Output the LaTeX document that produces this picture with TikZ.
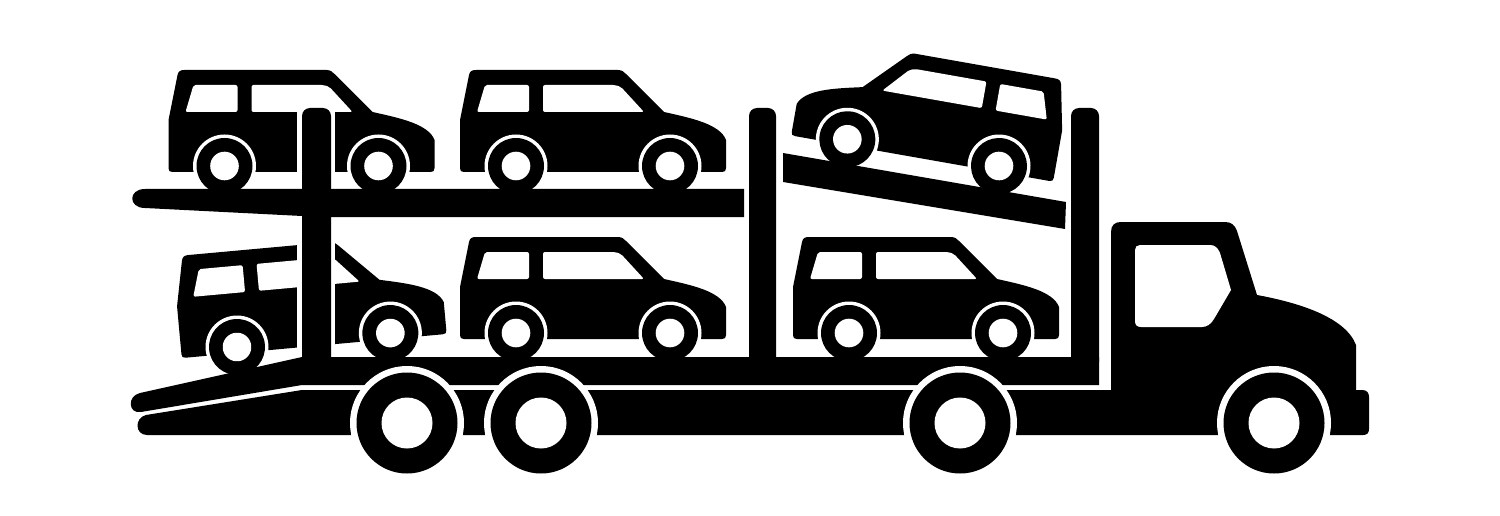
\documentclass[tikz,border=0pt]{standalone}
\tikzset{
  ink/.style={fill=black,draw=none},
  paper/.style={fill=white,draw=none},
  pics/autocar/.style={code={
    \path[ink] (-52,6) .. controls (-55,6) and (-56,5) .. (-56,2) -- (-56,-46) -- (-47,-91)
      .. controls (-46,-95) and (-44,-96) .. (-40,-96) -- (102,-96)
      .. controls (106,-96) and (108,-94) .. (110,-92) -- (148,-54)
      .. controls (175,-48) and (204,-42) .. (210,-26) -- (210,2)
      .. controls (210,5) and (209,6) .. (206,6) -- cycle;
    \path[paper,rounded corners=2pt] (-31,-81) -- (13,-81) -- (13,-54) -- (-39,-54) -- cycle;
    \path[paper,rounded corners=2pt] (27,-81) -- (99,-81) -- (105,-79) -- (128,-54) -- (27,-54) -- cycle;
    \foreach \wx in {0,154}{
      \path[paper] (\wx,0) circle[radius=31.5];
      \path[ink] (\wx,0) circle[radius=28];
      \path[paper] (\wx,0) circle[radius=14.3];
    }
  }},
  pics/bigwheel/.style={code={
    \path[paper] (0,0) circle[radius=57];
    \path[ink] (0,0) circle[radius=50.5];
    \path[paper] (0,0) circle[radius=25.5];
  }}
}
\begin{document}
\begin{tikzpicture}[x=1pt,y=-1pt]
\useasboundingbox[fill=white] (0,0) rectangle (1500,516);
% cars
\pic at (224.5,166) {autocar};
\pic at (516,166) {autocar};
\pic[shift={(999,166)},rotate=-10,xscale=-1] {autocar};
\pic[shift={(237,347)},rotate=5.2] {autocar};
\pic at (516,333) {autocar};
\pic at (849,333) {autocar};
% halo round the first post
\path[paper] (297,102) rectangle (335,357);
% posts
\path[ink,rounded corners=8pt] (302,108) rectangle (331,370);
\path[ink,rounded corners=8pt] (749,108) rectangle (776,370);
\path[ink,rounded corners=8pt] (1071,108) rectangle (1099,370);
% upper decks
\path[ink] (145,189) -- (744,189) -- (744,217) -- (331,217) -- (302,216) -- (145,208)
  .. controls (128,208) and (128,189) .. (145,189) -- cycle;
\path[ink] (783,153) -- (1066,202) -- (1065,229) -- (783,182) -- cycle;
% lower deck and ramp
\path[ink] (302,357) -- (1099,357) -- (1099,385) -- (302,385) -- (141,412)
  .. controls (128,414) and (127,396) .. (140,393) -- cycle;
% chassis and cab
\path[ink] (302,390) -- (1111,390) -- (1111,232)
  .. controls (1111,225) and (1115,222) .. (1121,222) -- (1225,222)
  .. controls (1231,222) and (1235,225) .. (1237,231) -- (1257,295)
  .. controls (1295,302) and (1345,316) .. (1356,345) -- (1356,390) -- (1362,390)
  .. controls (1367,390) and (1369,393) .. (1369,397) -- (1369,429)
  .. controls (1369,433) and (1367,435) .. (1363,435) -- (147,435)
  .. controls (135,435) and (134,418) .. (146,415) -- cycle;
\path[paper] (1140,245) -- (1210,245) .. controls (1215,245) and (1218,248) .. (1220,253)
  -- (1231,290) -- (1214,319) .. controls (1211,324) and (1207,327) .. (1202,327)
  -- (1141,327) .. controls (1137,327) and (1135,325) .. (1135,321) -- (1135,250)
  .. controls (1135,247) and (1137,245) .. (1140,245) -- cycle;
% road wheels
\pic at (407,423) {bigwheel};
\pic at (541,423) {bigwheel};
\pic at (960,423) {bigwheel};
\pic at (1274,423) {bigwheel};
\end{tikzpicture}
\end{document}
